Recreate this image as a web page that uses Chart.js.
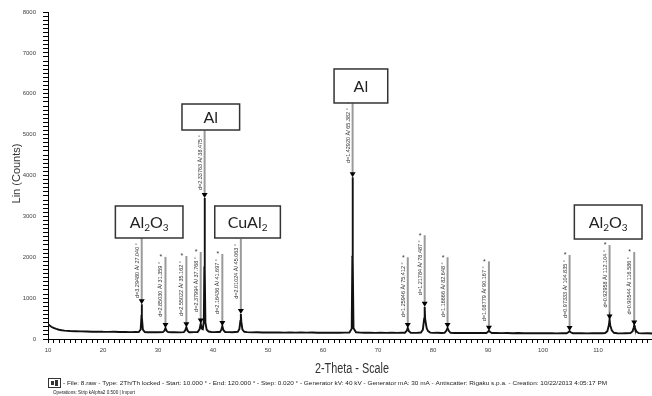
<!DOCTYPE html>
<html><head><meta charset="utf-8">
<script src="https://cdn.jsdelivr.net/npm/chart.js@4.4.0/dist/chart.umd.min.js"></script>
<style>
html,body{margin:0;padding:0;overflow:hidden;background:#fff;}
#wrap{position:relative;width:657px;height:396px;}
</style></head><body>
<div id="wrap"><canvas id="c"></canvas></div>
<script>
// ---- measured diffractogram (2-Theta in degrees, Lin counts) ----
const twoTheta = [10.0,10.3,10.6,11.0,11.5,12.0,12.5,13.0,13.5,14.0,15.0,16.0,17.0,18.0,19.0,20.0,21.0,22.0,23.0,24.0,25.0,26.0,26.5,26.85,26.99,27.04,27.09,27.25,27.6,28.0,29.0,30.0,30.9,31.15,31.36,31.57,31.85,32.5,33.0,34.0,34.7,34.95,35.16,35.37,35.65,36.0,36.5,37.2,37.55,37.77,37.95,38.15,38.33,38.42,38.475,38.53,38.62,38.85,39.2,39.7,40.2,40.8,41.25,41.5,41.697,41.9,42.2,42.8,43.5,44.0,44.5,44.8,44.98,45.063,45.14,45.35,45.7,46.2,47,48,49,50,51,52,53,54,55,56,57,58,59,60,61,62,63,64,64.8,65.22,65.33,65.382,65.43,65.55,66.0,66.8,67.5,68.5,69.5,70.5,71.5,72.5,73.5,74.3,74.9,75.2,75.412,75.62,75.95,76.5,77.2,77.8,78.15,78.4,78.487,78.57,78.85,79.1,79.5,80.0,80.8,81.5,82.1,82.4,82.648,82.9,83.2,84.0,85.0,86.0,87.0,88.0,89.0,89.7,89.95,90.167,90.4,90.7,91.5,92.5,93.5,94.5,95.5,96.5,97.5,98.5,99.5,100.5,101.5,102.5,103.5,104.3,104.6,104.835,105.05,105.4,106.2,107.0,108.0,109.0,110.0,110.8,111.3,111.7,111.98,112.104,112.22,112.5,112.9,113.5,114.3,115.0,115.9,116.3,116.5,116.586,116.7,117.0,117.4,118.0,119.0,120.0];
const counts = [360,328,300,272,246,226,214,206,200,196,191,186,184,179,181,176,174,177,171,173,168,171,168,232,540,850,530,228,170,166,169,164,168,200,270,198,167,164,167,163,167,212,290,205,166,164,168,172,235,380,255,240,430,1700,3450,1680,400,225,183,172,168,170,172,222,320,216,172,169,166,170,174,245,440,610,430,232,176,168,162,165,160,163,159,161,157,160,156,159,155,158,154,157,153,156,153,157,160,250,1950,3960,1930,265,165,157,153,155,151,154,150,153,149,152,153,196,270,192,153,151,153,157,222,500,790,490,262,192,157,150,152,148,151,196,270,194,152,147,150,146,149,145,147,148,172,200,170,147,145,143,146,142,145,141,144,140,143,139,142,138,141,142,166,195,164,141,139,142,138,141,139,142,146,192,340,480,338,212,152,141,138,141,143,192,280,330,270,182,143,137,139,135];

// ---- identified reflections ----
const peakAngles = [27.04,31.359,35.162,37.768,38.475,41.697,45.063,65.382,75.412,78.487,82.648,90.167,104.835,112.104,116.586];
const peakCounts = [850,270,290,380,3450,320,610,3960,270,790,270,200,195,480,330];
const dLabels = ["d=3.29480 Å/ 27.040 °","d=2.85030 Å/ 31.359 °","d=2.55022 Å/ 35.162 °","d=2.37994 Å/ 37.768 °","d=2.33763 Å/ 38.475 °","d=2.16436 Å/ 41.697 °","d=2.01024 Å/ 45.063 °","d=1.42920 Å/ 65.382 °","d=1.25946 Å/ 75.412 °","d=1.21784 Å/ 78.487 °","d=1.16666 Å/ 82.648 °","d=1.08779 Å/ 90.167 °","d=0.97333 Å/ 104.835 °","d=0.92958 Å/ 112.104 °","d=0.90544 Å/ 116.586 °"];

// ---- axis tick labels ----
const xTickLabels = [10,20,30,40,50,60,70,80,90,100,110];
const yTickLabels = [0,1000,2000,3000,4000,5000,6000,7000,8000];

// ---- phase labels ----
const phaseNames = ["Al2O3","Al","CuAl2","Al","Al2O3"];

// annotation placement (data units) - layout, not data
const markerTop = [2470,2010,2030,2130,5110,2080,2450,5770,2000,2540,2000,1900,2055,2300,2130];
const phaseBoxes = [
  {l:22.25,r:34.54,t:3254,b:2471},
  {l:34.36,r:44.84,t:5749,b:5113},
  {l:40.32,r:52.25,t:3254,b:2471},
  {l:62.01,r:71.77,t:6606,b:5774},
  {l:105.7,r:118.0,t:3278,b:2446}
];

function drawFormula(ctx, txt, cx, cy){
  const parts = txt.match(/[A-Z][a-z]?|\d+/g);
  const big = '16px Lato, "Open Sans", Arial', small = '10px Lato, "Open Sans", Arial';
  let w = 0;
  parts.forEach(p=>{ ctx.font = /\d/.test(p)?small:big; w += ctx.measureText(p).width; });
  let x = cx - w/2;
  ctx.textAlign='left'; ctx.textBaseline='alphabetic'; ctx.fillStyle='#222';
  parts.forEach(p=>{
    const sub = /\d/.test(p);
    ctx.font = sub?small:big;
    ctx.fillText(p, x, cy + 6 + (sub?3:0));
    x += ctx.measureText(p).width;
  });
}

const annot = {
  id:'annot',
  beforeDatasetsDraw(chart){
    const {ctx, scales:{x:xs, y:ys}} = chart;
    ctx.save();
    peakAngles.forEach((a,i)=>{
      const px = xs.getPixelForValue(a);
      const top = ys.getPixelForValue(markerTop[i]);
      const py = ys.getPixelForValue(peakCounts[i]);
      ctx.strokeStyle='#9a9a9a'; ctx.lineWidth=2;
      ctx.beginPath(); ctx.moveTo(px, top); ctx.lineTo(px, py-4); ctx.stroke();
      ctx.save();
      ctx.translate(px-4.5, top+5);
      ctx.rotate(-Math.PI/2);
      ctx.font='5.5px Arial'; ctx.fillStyle='#333';
      ctx.textAlign='right'; ctx.textBaseline='middle';
      ctx.fillText(dLabels[i], 0, 0);
      ctx.restore();
      ctx.font='7px Arial'; ctx.fillStyle='#333'; ctx.textAlign='center'; ctx.textBaseline='middle';
      ctx.fillText('*', px-4.5, top+0.5);
    });
    ctx.restore();
  },
  afterDatasetsDraw(chart){
    const {ctx, scales:{x:xs, y:ys}} = chart;
    ctx.save();
    ctx.fillStyle='#000';
    peakAngles.forEach((a,i)=>{
      const px = xs.getPixelForValue(a);
      const py = ys.getPixelForValue(peakCounts[i]);
      ctx.beginPath(); ctx.moveTo(px-3, py-5); ctx.lineTo(px+3, py-5); ctx.lineTo(px, py); ctx.closePath(); ctx.fill();
    });
    phaseBoxes.forEach((b,i)=>{
      const x1 = xs.getPixelForValue(b.l), x2 = xs.getPixelForValue(b.r);
      const y1 = ys.getPixelForValue(b.t), y2 = ys.getPixelForValue(b.b);
      ctx.fillStyle='#fff'; ctx.fillRect(x1,y1,x2-x1,y2-y1);
      ctx.strokeStyle='#333'; ctx.lineWidth=1.5; ctx.strokeRect(x1,y1,x2-x1,y2-y1);
      drawFormula(ctx, phaseNames[i], (x1+x2)/2, (y1+y2)/2);
    });
    ctx.restore();
  },
  afterDraw(chart){
    const {ctx, chartArea:ca} = chart;
    ctx.save();
    ctx.save();
    ctx.translate(17, (ca.top+ca.bottom)/2 - 2);
    ctx.rotate(-Math.PI/2);
    ctx.font='11px Arial'; ctx.fillStyle='#333'; ctx.textAlign='center'; ctx.textBaseline='middle';
    ctx.fillText('Lin (Counts)',0,0);
    ctx.restore();
    ctx.save();
    ctx.font='14px Arial'; ctx.fillStyle='#333'; ctx.textAlign='center'; ctx.textBaseline='alphabetic';
    const t='2-Theta - Scale';
    const sx = 74/ctx.measureText(t).width;
    ctx.translate(352, 373); ctx.scale(sx,1);
    ctx.fillText(t,0,0);
    ctx.restore();
    ctx.strokeStyle='#333'; ctx.lineWidth=1;
    ctx.strokeRect(48.5,378.5,12,9);
    ctx.fillStyle='#333'; ctx.fillRect(51,381,3,4); ctx.fillRect(55,380,3,6);
    const f1='- File: 8.raw - Type: 2Th/Th locked - Start: 10.000 ° - End: 120.000 ° - Step: 0.020 ° - Generator kV: 40 kV - Generator mA: 30 mA - Antiscatter: Rigaku s.p.a. - Creation: 10/22/2013 4:05:17 PM';
    ctx.font='6px Arial'; ctx.textAlign='left'; ctx.textBaseline='middle'; ctx.fillStyle='#222';
    ctx.save(); ctx.translate(63,383); ctx.scale(544/ctx.measureText(f1).width,1); ctx.fillText(f1,0,0); ctx.restore();
    const f2='Operations: Strip kAlpha2 0.500 | Import';
    ctx.save(); ctx.translate(53,392.5); ctx.scale(82/ctx.measureText(f2).width,1); ctx.fillText(f2,0,0); ctx.restore();
    ctx.restore();
  }
};

new Chart(document.getElementById('c'), {
  type:'line',
  data:{datasets:[{
    data: twoTheta.map((x,i)=>({x:x, y:counts[i]})),
    borderColor:'#111', borderWidth:1.9, pointRadius:0, tension:0, fill:false
  }]},
  options:{
    responsive:true, maintainAspectRatio:false, animation:false,
    layout:{padding:{top:12,right:0,left:0,bottom:0}},
    plugins:{legend:{display:false}, tooltip:{enabled:false}},
    scales:{
      x:{type:'linear', min:10, max:120,
        afterFit(s){ s.height = 57; },
        ticks:{stepSize:1, autoSkip:false, maxRotation:0, minRotation:0, padding:4, color:'#444',
          font:{size:6, family:'Arial'},
          callback:v=> xTickLabels.includes(v) ? String(v) : ''},
        grid:{drawOnChartArea:false, drawTicks:true, tickLength:4, color:'#000', lineWidth:1},
        border:{display:true, color:'#000', width:1}
      },
      y:{type:'linear', min:0, max:8000,
        afterFit(s){ s.width = 48; },
        ticks:{stepSize:100, autoSkip:false, padding:7, color:'#444',
          font:{size:6, family:'Arial'},
          callback:v=> yTickLabels.includes(v) ? String(v) : ''},
        grid:{drawOnChartArea:false, drawTicks:true, tickLength:5, color:'#000', lineWidth:1},
        border:{display:true, color:'#000', width:1}
      }
    }
  },
  plugins:[annot]
});
</script>
</body></html>
